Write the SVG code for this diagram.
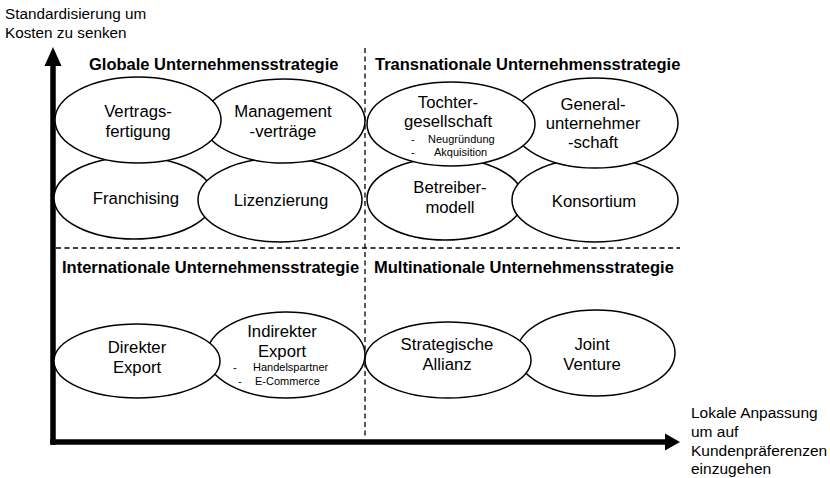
<svg xmlns="http://www.w3.org/2000/svg" width="830" height="478" viewBox="0 0 830 478">
<style>
text{font-family:"Liberation Sans",Arial,sans-serif;fill:#000}
.t{font-size:16.7px;text-anchor:middle}
.s{font-size:11px}
.h{font-size:16.5px;font-weight:bold}
.a{font-size:15.5px}
.a2{font-size:15.3px}
ellipse{fill:#fff;stroke:#000;stroke-width:1.5}
.d{stroke:#000;stroke-width:1.3;stroke-dasharray:5 3.5;fill:none}
.ax{stroke:#000;stroke-width:5.5;fill:none}
</style>
<rect width="830" height="478" fill="#fff"/>
<g id="grid">
<line class="d" x1="365" y1="48" x2="365" y2="438"/>
<line class="d" x1="56" y1="248" x2="680" y2="248"/>
</g>
<g id="connectors">
<line class="ax" x1="53" y1="62" x2="53" y2="444.75"/>
<polygon points="53,47 61.5,66 44.5,66" fill="#000"/>
<line class="ax" x1="50.25" y1="442" x2="668" y2="442"/>
<polygon points="680,442 665,433.5 665,450.5" fill="#000"/>
</g>
<g id="axis-y-label">
<text class="a2" x="5" y="19">Standardisierung um</text>
<text class="a2" x="5" y="38">Kosten zu senken</text>
</g>
<g id="axis-x-label">
<text class="a" x="691" y="418">Lokale Anpassung</text>
<text class="a" x="691" y="437">um auf</text>
<text class="a" x="691" y="456">Kundenpräferenzen</text>
<text class="a" x="691" y="474">einzugehen</text>
</g>
<g id="titles">
<text class="h" x="89" y="70">Globale Unternehmensstrategie</text>
<text class="h" x="375" y="70">Transnationale Unternehmensstrategie</text>
<text class="h" x="62" y="273">Internationale Unternehmensstrategie</text>
<text class="h" x="374" y="273">Multinationale Unternehmensstrategie</text>
</g>
<g id="franchising">
<ellipse cx="134" cy="198" rx="80" ry="41"/>
<text class="t" x="136" y="204">Franchising</text>
</g>
<g id="lizenzierung">
<ellipse cx="280" cy="200" rx="82" ry="42"/>
<text class="t" x="281" y="206">Lizenzierung</text>
</g>
<g id="managementvertraege">
<ellipse cx="284" cy="121" rx="81" ry="42"/>
<text class="t" x="283" y="117">Management</text>
<text class="t" x="283" y="137">-verträge</text>
</g>
<g id="vertragsfertigung">
<ellipse cx="138" cy="120" rx="83" ry="43"/>
<text class="t" x="138" y="117">Vertrags-</text>
<text class="t" x="138" y="137">fertigung</text>
</g>
<g id="betreibermodell">
<ellipse cx="445" cy="199" rx="78" ry="41"/>
<text class="t" x="450" y="193">Betreiber-</text>
<text class="t" x="450" y="213">modell</text>
</g>
<g id="konsortium">
<ellipse cx="595" cy="200" rx="83" ry="42"/>
<text class="t" x="594" y="207">Konsortium</text>
</g>
<g id="generalunternehmerschaft">
<ellipse cx="595" cy="123" rx="83" ry="45"/>
<text class="t" x="593" y="110">General-</text>
<text class="t" x="593" y="129">unternehmer</text>
<text class="t" x="593" y="148">-schaft</text>
</g>
<g id="tochtergesellschaft">
<ellipse cx="451" cy="124" rx="84" ry="42"/>
<text class="t" x="448" y="108">Tochter-</text>
<text class="t" x="448" y="127">gesellschaft</text>
<text class="s" x="411" y="143">-</text>
<text class="s" x="428" y="143">Neugründung</text>
<text class="s" x="411" y="156">-</text>
<text class="s" x="434" y="156">Akquisition</text>
</g>
<g id="indirekter-export">
<ellipse cx="286" cy="355" rx="79" ry="43"/>
<text class="t" x="282" y="337">Indirekter</text>
<text class="t" x="282" y="357">Export</text>
<text class="s" x="233" y="371">-</text>
<text class="s" x="253" y="371">Handelspartner</text>
<text class="s" x="238" y="385">-</text>
<text class="s" x="255" y="385">E-Commerce</text>
</g>
<g id="direkter-export">
<ellipse cx="137" cy="361" rx="83" ry="37"/>
<text class="t" x="137" y="353">Direkter</text>
<text class="t" x="137" y="373">Export</text>
</g>
<g id="joint-venture">
<ellipse cx="596" cy="353" rx="79" ry="43"/>
<text class="t" x="592" y="350">Joint</text>
<text class="t" x="592" y="370">Venture</text>
</g>
<g id="strategische-allianz">
<ellipse cx="448" cy="360" rx="83" ry="38"/>
<text class="t" x="447" y="350">Strategische</text>
<text class="t" x="447" y="370">Allianz</text>
</g>
</svg>
